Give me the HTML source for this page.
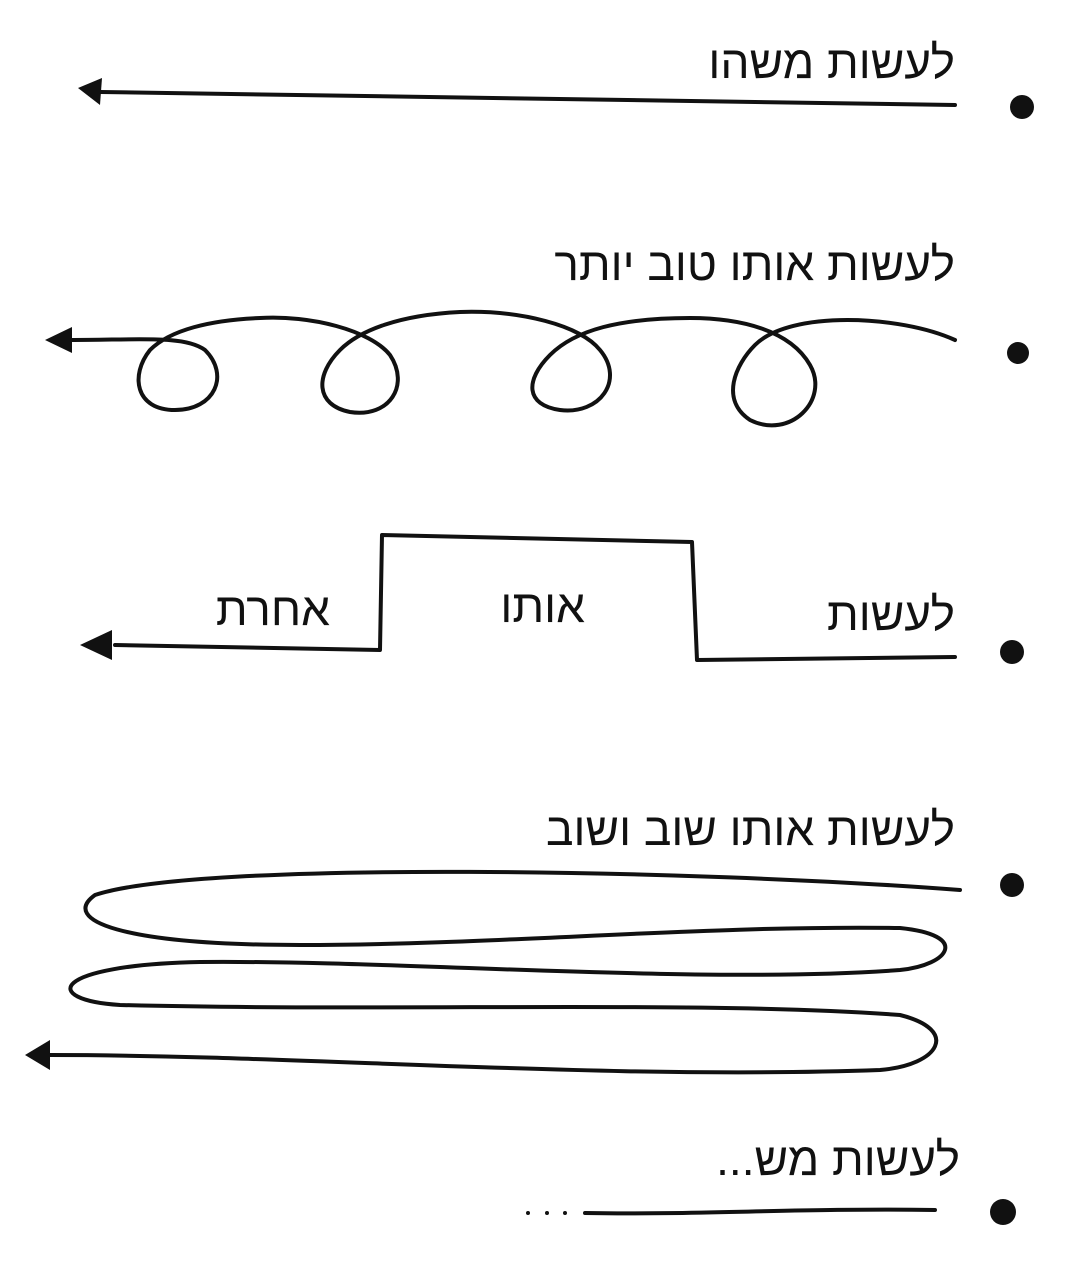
<!DOCTYPE html>
<html><head><meta charset="utf-8"><style>
html,body{margin:0;padding:0;background:#fff;}
svg{display:block;}
text{font-family:"Liberation Sans","DejaVu Sans",sans-serif;font-size:46px;fill:#111;}
</style></head><body>
<svg width="1084" height="1262" viewBox="0 0 1084 1262" xmlns="http://www.w3.org/2000/svg">
<g fill="none" stroke="#111" stroke-width="4" stroke-linecap="round" stroke-linejoin="round">
<path d="M955,105 C700,100 400,95 100,92"/>
<path d="M955,340 C900,315 790,310 755,345 C735,365 720,400 750,420 C790,440 830,400 810,365 C790,330 740,318 690,318 C620,318 575,330 550,355 C525,380 525,405 560,410 C600,415 625,380 600,350 C580,325 520,310 460,312 C400,315 360,330 340,350 C315,375 315,405 350,412 C390,418 410,385 390,355 C370,330 310,315 260,318 C210,320 170,330 150,350 C130,375 135,410 175,410 C215,410 230,375 205,350 C185,335 140,340 70,340"/>
<path d="M955,657 L697,660 L692,542 L382,535 L380,650 L115,645"/>
<path d="M960,890 C700,870 200,860 95,895 C60,920 120,945 300,945 C500,945 700,925 900,928 C970,935 950,965 900,970 C700,985 400,960 200,962 C50,965 40,1000 120,1005 C400,1012 700,1000 900,1015 C960,1030 940,1065 880,1070 C600,1080 300,1055 50,1055"/>
<path d="M935,1210 C800,1208 700,1215 585,1213"/>
</g>
<g fill="#111">
<polygon points="78,88 102,78 100,105"/>
<polygon points="45,340 72,327 72,353"/>
<polygon points="80,645 112,630 112,660"/>
<polygon points="25,1055 50,1040 50,1070"/>
<circle cx="1022" cy="107" r="12"/>
<circle cx="1018" cy="353" r="11"/>
<circle cx="1012" cy="652" r="12"/>
<circle cx="1012" cy="885" r="12"/>
<circle cx="1003" cy="1212" r="13"/>
<circle cx="528" cy="1213" r="2"/>
<circle cx="547" cy="1213" r="2"/>
<circle cx="565" cy="1213" r="2"/>
</g>
<text x="955" y="78" text-anchor="start" direction="rtl">לעשות משהו</text>
<text x="955" y="280" text-anchor="start" direction="rtl">לעשות אותו טוב יותר</text>
<text x="955" y="630" text-anchor="start" direction="rtl">לעשות</text>
<text x="585" y="622" text-anchor="start" direction="rtl">אותו</text>
<text x="330" y="625" text-anchor="start" direction="rtl">אחרת</text>
<text x="955" y="845" text-anchor="start" direction="rtl">לעשות אותו שוב ושוב</text>
<text x="960" y="1175" text-anchor="start" direction="rtl">לעשות מש...</text>
</svg>
</body></html>
